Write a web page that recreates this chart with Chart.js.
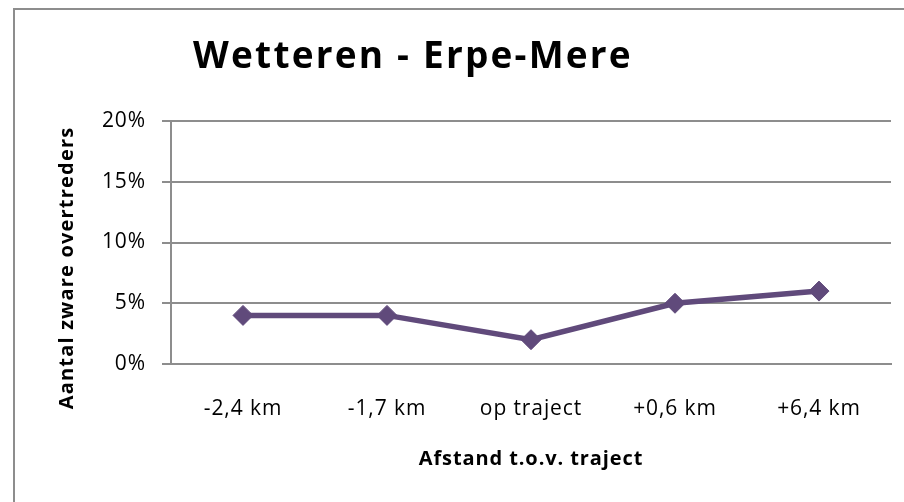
<!DOCTYPE html>
<html>
<head>
<meta charset="utf-8">
<script src="https://cdn.jsdelivr.net/npm/chart.js@4/dist/chart.umd.min.js"></script>
<style>
	html, body { margin: 0; padding: 0; background: #fff; overflow: hidden; }
	#chart { display: block; }
</style>
</head>
<body>
<canvas id="chart" width="904" height="502"></canvas>
<script>
const chartTitle = 'Wetteren - Erpe-Mere';
const yTitle = 'Aantal zware overtreders';
const xTitle = 'Afstand t.o.v. traject';
const categories = ['-2,4 km', '-1,7 km', 'op traject', '+0,6 km', '+6,4 km'];
const overtreders = [4, 4, 2, 5, 6];
const yMin = 0, yMax = 20, yStep = 5;

const lineColor = '#604a7b';
const gridColor = '#8d8d8d';
const FONT = '"Open Sans", sans-serif';

// outer frame, slightly widened glyphs, chart title and rotated y title
const textPlugin = {
	id: 'textPlugin',
	beforeDraw(chart) {
		const ctx = chart.ctx;
		ctx.save();
		ctx.fillStyle = gridColor;
		ctx.fillRect(13, 8, 2, chart.height - 8);
		ctx.fillRect(13, 8, chart.width - 13, 2);
		ctx.restore();
		ctx.letterSpacing = '0.9px';
	},
	afterDraw(chart) {
		const ctx = chart.ctx;
		ctx.save();
		ctx.fillStyle = '#000';
		ctx.textAlign = 'center';
		ctx.textBaseline = 'alphabetic';
		ctx.letterSpacing = '2.2px';
		ctx.font = `bold 37px ${FONT}`;
		ctx.fillText(chartTitle, 413, 68);

		ctx.letterSpacing = '1.2px';
		ctx.font = `bold 20px ${FONT}`;
		ctx.translate(73, 268);
		ctx.rotate(-Math.PI / 2);
		ctx.fillText(yTitle, 0, 0);
		ctx.restore();
	}
};

new Chart(document.getElementById('chart'), {
	type: 'line',
	data: {
		labels: categories,
		datasets: [{
			data: overtreders,
			borderColor: lineColor,
			backgroundColor: lineColor,
			borderWidth: 5.5,
			tension: 0,
			pointStyle: 'rectRot',
			pointRadius: 10,
			pointBorderWidth: 1,
			pointBackgroundColor: lineColor,
			pointBorderColor: lineColor
		}]
	},
	options: {
		responsive: false,
		animation: false,
		layout: { padding: { left: 0, right: 13, top: 121, bottom: 0 } },
		plugins: { legend: { display: false }, tooltip: { enabled: false } },
		scales: {
			x: {
				offset: true,
				grid: { display: false },
				border: { display: true, color: gridColor, width: 2 },
				ticks: { color: '#000', font: { family: FONT, size: 21 }, padding: 24, maxRotation: 0 },
				title: { display: true, text: xTitle, color: '#000', font: { family: FONT, size: 20, weight: 'bold' }, padding: { top: 0, bottom: 31 } },
				afterFit: s => { s.height = 138; }
			},
			y: {
				min: yMin, max: yMax,
				grid: { color: gridColor, lineWidth: 2, tickLength: 9, drawTicks: true },
				border: { display: true, color: gridColor, width: 2 },
				ticks: { stepSize: yStep, color: '#000', font: { family: FONT, size: 21 }, padding: 16, callback: v => v + '%' },
				afterFit: s => { s.width = 171; }
			}
		}
	},
	plugins: [textPlugin]
});
</script>
</body>
</html>
